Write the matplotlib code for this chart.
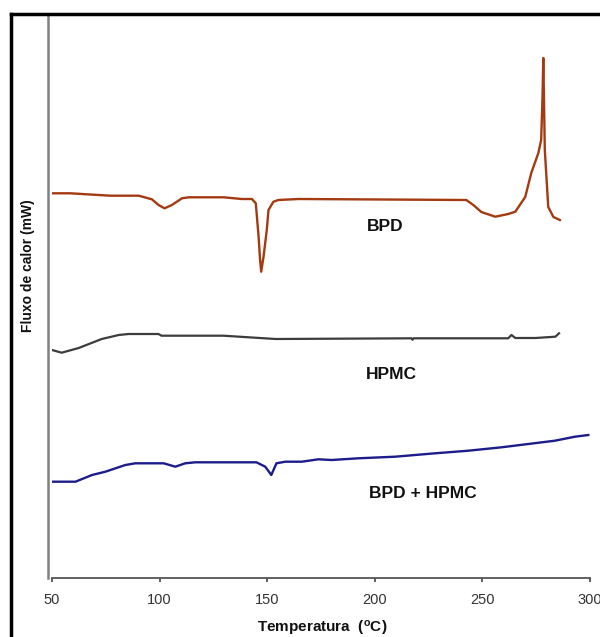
import matplotlib
matplotlib.use("Agg")
import matplotlib.pyplot as plt
from matplotlib.lines import Line2D

plt.rcParams['font.family'] = ['Liberation Sans', 'DejaVu Sans']
plt.rcParams['mathtext.default'] = 'regular'

# DSC curves, temperature (C) vs heat flow (arbitrary units)
bpd_t = [50, 58.5, 77.1, 90.3, 96.4, 99.5, 102.3, 105.7, 110.4, 113.5, 129.7, 138.2,
         142.9, 144.7, 146.0, 146.7, 147.2, 148.3, 149.8, 150.6, 152.9, 155.2, 164.5,
         242.5, 245.8, 249.5, 256.0, 262.0, 265.3, 269.9, 272.7, 276.0, 277.3, 277.9,
         278.3, 279.0, 280.6, 283.0, 286.0]
bpd_y = [384.7, 384.7, 382.3, 382.3, 378.7, 373, 369.7, 373, 379.7, 380.7, 380.7, 379,
         379, 374.7, 341.3, 318, 306.3, 321.3, 348, 368, 376.3, 378, 379,
         378, 373, 366, 361.3, 364, 366.3, 381, 405, 425, 438, 478,
         520, 428, 371, 361, 358]

hpmc_t = [50, 54.5, 62.4, 73.1, 81.0, 85.6, 99.5, 100.9, 129.7, 153.9, 217.0, 217.5,
          218.0, 262.0, 263.5, 265.3, 274.6, 283.9, 285.6]
hpmc_y = [228, 225.3, 230, 239, 243, 244, 244, 242.3, 242.3, 239, 239.7, 238.3,
          239.7, 239.7, 243, 240, 240, 241.3, 244.7]

mix_t = [50, 60.9, 68.6, 74.8, 84.1, 88.7, 101.9, 107.3, 111.9, 116.6, 145.0, 149.1,
         151.9, 154.3, 158.4, 166.1, 173.8, 179.9, 192.4, 209.4, 228.0, 243.5, 258.9,
         271.3, 283.7, 293.0, 299.2]
mix_y = [96.3, 96.3, 103, 106.3, 113, 114.7, 114.7, 111.3, 114.7, 115.7, 115.7, 111.3,
         103, 114.7, 116.3, 116.3, 118.7, 118, 119.7, 121.3, 124.7, 127.3, 130.7,
         134, 137.3, 141.3, 143]

labels = ["BPD", "HPMC", "BPD + HPMC"]
label_pos = [(205, 351), (207.5, 203), (222.5, 85)]

x_ticks = [50, 100, 150, 200, 250, 300]

fig = plt.figure(figsize=(6.0, 6.37), dpi=100)
ax = fig.add_axes([52 / 600, 1 - 578 / 637, 538 / 600, 562 / 637])

ax.plot(bpd_t, bpd_y, color="#A33A12", lw=1.7)
ax.plot(hpmc_t, hpmc_y, color="#3C3C3C", lw=1.6)
ax.plot(mix_t, mix_y, color="#1C1C8A", lw=1.7)

for txt, (x, y) in zip(labels, label_pos):
    ax.text(x, y, txt, ha="center", va="center", fontsize=12.5, fontweight="bold", color="#111111")

ax.set_xlim(50, 300)
ax.set_ylim(0, 562)
ax.set_xticks(x_ticks)
ax.set_xticklabels([str(v) for v in x_ticks])
ax.set_yticks([])
ax.tick_params(axis="x", direction="out", length=3, width=1.2, colors="#444444",
               labelsize=10.5, labelcolor="#333333", pad=8)

for s in ["top", "right"]:
    ax.spines[s].set_visible(False)
ax.spines["left"].set_color("#808080")
ax.spines["left"].set_linewidth(1.8)
ax.spines["left"].set_position(("outward", 3))
ax.spines["bottom"].set_color("#555555")
ax.spines["bottom"].set_linewidth(1.3)

fig.text(28 / 600, 1 - 266 / 637, "Fluxo de calor (mW)", rotation=90, ha="center", va="center",
         fontsize=10, fontweight="bold", color="#111111")
fig.text(322 / 600, 1 - 628 / 637, "Temperatura  ($^{o}$C)", ha="center", va="center",
         fontsize=11, fontweight="bold", color="#111111")

# black frame around the whole picture
fig.add_artist(Line2D([11 / 600, 1.05], [1 - 14 / 637, 1 - 14 / 637], color="black", lw=2.5,
                      transform=fig.transFigure))
fig.add_artist(Line2D([11 / 600, 11 / 600], [-0.05, 1 - 14 / 637], color="black", lw=2.5,
                      transform=fig.transFigure))

fig.savefig("out.png", dpi=100)
